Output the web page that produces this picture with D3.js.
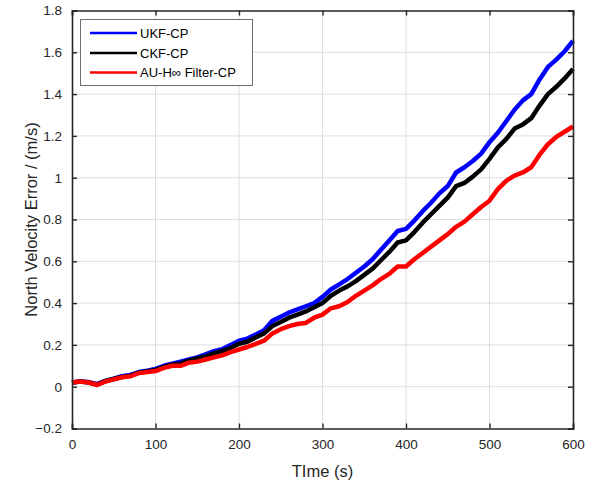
<!DOCTYPE html>
<html>
<head>
<meta charset="utf-8">
<script src="https://cdn.jsdelivr.net/npm/d3@7"></script>
<style>
  html, body { margin: 0; padding: 0; background: #fff; }
  svg { display: block; font-family: "Liberation Sans", Arial, Helvetica, sans-serif; }
</style>
</head>
<body>
<svg id="chart" width="596" height="487"></svg>
<script>
const time = d3.range(0, 601, 10);
const ukf = [0.02,0.025,0.022,0.012,0.028,0.038,0.05,0.056,0.07,0.077,
  0.085,0.1,0.11,0.12,0.13,0.14,0.155,0.17,0.18,0.2,
  0.22,0.23,0.25,0.27,0.315,0.335,0.355,0.37,0.385,0.4,
  0.43,0.465,0.49,0.515,0.545,0.575,0.61,0.655,0.7,0.745,
  0.755,0.795,0.84,0.88,0.925,0.96,1.025,1.05,1.08,1.115,
  1.17,1.215,1.27,1.325,1.37,1.4,1.47,1.53,1.565,1.605,1.655];
const ckf = [0.02,0.025,0.02,0.01,0.027,0.037,0.047,0.053,0.068,0.073,
  0.08,0.095,0.105,0.11,0.125,0.135,0.145,0.16,0.17,0.185,
  0.205,0.215,0.235,0.255,0.29,0.31,0.33,0.345,0.36,0.38,
  0.4,0.435,0.46,0.48,0.505,0.535,0.565,0.605,0.645,0.69,
  0.7,0.74,0.785,0.825,0.865,0.905,0.96,0.975,1.005,1.04,
  1.09,1.145,1.185,1.235,1.255,1.285,1.345,1.4,1.435,1.475,1.52];
const auh = [0.02,0.025,0.02,0.008,0.025,0.035,0.045,0.05,0.065,0.07,
  0.075,0.09,0.1,0.1,0.115,0.12,0.13,0.14,0.15,0.165,
  0.178,0.19,0.205,0.22,0.255,0.275,0.29,0.3,0.305,0.33,
  0.345,0.375,0.385,0.405,0.435,0.46,0.485,0.515,0.54,0.575,
  0.575,0.61,0.64,0.67,0.7,0.73,0.765,0.79,0.825,0.86,
  0.89,0.945,0.985,1.01,1.025,1.05,1.11,1.16,1.195,1.22,1.245];
const seriesNames = ["UKF-CP", "CKF-CP", "AU-H\u221E Filter-CP"];
const seriesColors = ["#0000ff", "#000000", "#ff0000"];
const xTicks = [0,100,200,300,400,500,600];
const yTicks = [-0.2,0,0.2,0.4,0.6,0.8,1,1.2,1.4,1.6,1.8];
const xLabel = "TIme (s)";
const yLabel = "North Velocity Error / (m/s)";

const svg = d3.select("#chart");
const L = 72, R = 573, T = 10.5, B = 428.5;
const x = d3.scaleLinear().domain([0, 600]).range([L, R]);
const y = d3.scaleLinear().domain([-0.2, 1.8]).range([B, T]);
const axisColor = "#262626";

// grid
const grid = svg.append("g");
grid.selectAll("line.gx").data(xTicks.slice(1, -1)).enter().append("line")
  .attr("x1", d => x(d)).attr("x2", d => x(d)).attr("y1", T).attr("y2", B)
  .attr("stroke", "#dedede").attr("stroke-width", 1);
grid.selectAll("line.gy").data(yTicks.slice(1, -1)).enter().append("line")
  .attr("y1", d => y(d)).attr("y2", d => y(d)).attr("x1", L).attr("x2", R)
  .attr("stroke", "#dedede").attr("stroke-width", 1);

// data
const allSeries = [ukf, ckf, auh];
const line = d3.line().x((d, i) => x(time[i])).y(d => y(d));
allSeries.forEach((s, k) => {
  svg.append("path").datum(s).attr("d", line)
    .attr("fill", "none").attr("stroke", seriesColors[k])
    .attr("stroke-width", 4.5).attr("stroke-linejoin", "round").attr("stroke-linecap", "butt");
});

// axes
const fmt = d => (d === 0 ? "0" : d3.format("")(+d.toFixed(1)));
const axB = d3.axisBottom(x).tickValues(xTicks).tickSize(-5).tickPadding(11).tickFormat(d => d);
const axT = d3.axisTop(x).tickValues(xTicks).tickSize(-5).tickFormat("");
const axLf = d3.axisLeft(y).tickValues(yTicks).tickSize(-5).tickPadding(10).tickFormat(fmt);
const axRt = d3.axisRight(y).tickValues(yTicks).tickSize(-5).tickFormat("");
function style(g) {
  g.select(".domain").attr("stroke", axisColor).attr("stroke-width", 1.6);
  g.selectAll(".tick line").attr("stroke", axisColor).attr("stroke-width", 1.4);
  g.selectAll(".tick text").attr("fill", axisColor).attr("font-size", 13.5)
    .attr("font-family", "Liberation Sans, Arial, sans-serif");
}
svg.append("g").attr("transform", `translate(0,${B})`).call(axB).call(style);
svg.append("g").attr("transform", `translate(0,${T})`).call(axT).call(style);
svg.append("g").attr("transform", `translate(${L},0)`).call(axLf).call(style);
svg.append("g").attr("transform", `translate(${R},0)`).call(axRt).call(style);

// axis labels
svg.append("text").attr("x", (L + R) / 2).attr("y", 477).attr("text-anchor", "middle")
  .attr("font-size", 16.5).attr("fill", axisColor).text(xLabel);
svg.append("text").attr("transform", `translate(37,${(T + B) / 2}) rotate(-90)`)
  .attr("text-anchor", "middle").attr("font-size", 16.5).attr("fill", axisColor).text(yLabel);

// legend
const lg = svg.append("g");
lg.append("rect").attr("x", 80.5).attr("y", 19.5).attr("width", 172).attr("height", 66)
  .attr("fill", "#fff").attr("stroke", "#6e6e6e").attr("stroke-width", 1);
const ly = [33, 53, 72.5];
seriesNames.forEach((n, k) => {
  lg.append("line").attr("x1", 90).attr("x2", 137).attr("y1", ly[k]).attr("y2", ly[k])
    .attr("stroke", seriesColors[k]).attr("stroke-width", 2.5);
  lg.append("text").attr("x", 140).attr("y", ly[k] + 4.5).attr("font-size", 13)
    .attr("fill", "#000").text(n);
});
</script>
</body>
</html>
